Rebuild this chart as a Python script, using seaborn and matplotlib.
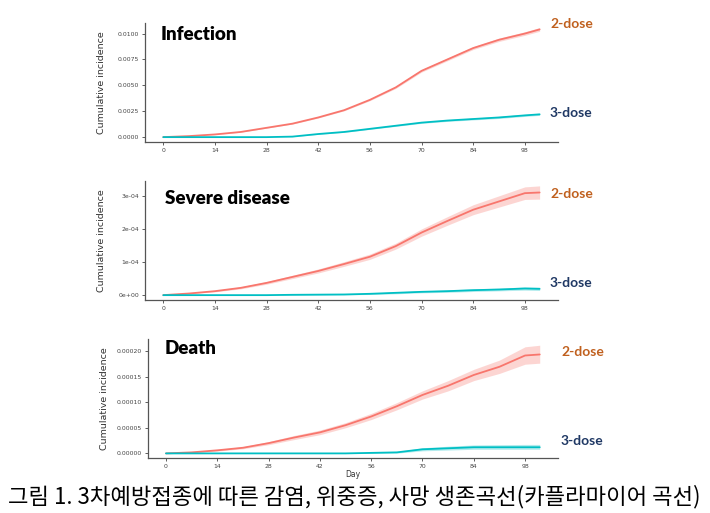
import numpy as np
import pandas as pd
import matplotlib
matplotlib.use("Agg")
import matplotlib.pyplot as plt
import seaborn as sns
from matplotlib.ticker import FixedLocator, FixedFormatter

sns.set_theme(style="ticks")
plt.rcParams['font.family'] = ['DejaVu Sans', 'Noto Sans CJK KR']

# ---------------- data ----------------
days = [0, 7, 14, 21, 28, 35, 42, 49, 56, 63, 70, 77, 84, 91, 98, 102]

inf_2 = [0, 0.0001, 0.00026, 0.0005, 0.0009, 0.0013, 0.0019, 0.0026, 0.0036,
         0.0048, 0.0064, 0.0075, 0.0086, 0.0094, 0.0100, 0.0104]
inf_2_lo = [0, 0.0001, 0.00025, 0.00048, 0.00087, 0.00126, 0.00185, 0.00254, 0.00352,
            0.0047, 0.00628, 0.00737, 0.00846, 0.00924, 0.00983, 0.01022]
inf_2_hi = [0, 0.0001, 0.00027, 0.00052, 0.00093, 0.00134, 0.00195, 0.00266, 0.00368,
            0.0049, 0.00652, 0.00763, 0.00874, 0.00956, 0.01017, 0.01058]
inf_3 = [0, 0, 0, 0, 0, 0.00005, 0.0003, 0.0005, 0.0008, 0.0011, 0.0014, 0.0016,
         0.00175, 0.0019, 0.0021, 0.0022]
inf_3_lo = [0, 0, 0, 0, 0, 0.00004, 0.00027, 0.00046, 0.00075, 0.00104, 0.00133, 0.00152,
            0.00166, 0.0018, 0.002, 0.0021]
inf_3_hi = [0, 0, 0, 0, 0, 0.00006, 0.00033, 0.00054, 0.00085, 0.00116, 0.00147, 0.00168,
            0.00184, 0.002, 0.0022, 0.0023]

sev_2 = [0, 0.05e-4, 0.12e-4, 0.22e-4, 0.37e-4, 0.55e-4, 0.73e-4, 0.94e-4, 1.16e-4,
         1.48e-4, 1.89e-4, 2.24e-4, 2.58e-4, 2.83e-4, 3.08e-4, 3.10e-4]
sev_2_lo = [0, 0.04e-4, 0.10e-4, 0.19e-4, 0.33e-4, 0.50e-4, 0.67e-4, 0.87e-4, 1.08e-4,
            1.39e-4, 1.78e-4, 2.11e-4, 2.43e-4, 2.66e-4, 2.89e-4, 2.90e-4]
sev_2_hi = [0, 0.06e-4, 0.14e-4, 0.25e-4, 0.41e-4, 0.60e-4, 0.79e-4, 1.01e-4, 1.24e-4,
            1.57e-4, 2.00e-4, 2.37e-4, 2.73e-4, 3.00e-4, 3.27e-4, 3.30e-4]
sev_3 = [0, 0, 0, 0, 0, 0.01e-4, 0.015e-4, 0.02e-4, 0.04e-4, 0.07e-4, 0.10e-4, 0.12e-4,
         0.15e-4, 0.17e-4, 0.20e-4, 0.19e-4]
sev_3_lo = [0, 0, 0, 0, 0, 0.0, 0.005e-4, 0.01e-4, 0.02e-4, 0.04e-4, 0.07e-4, 0.085e-4,
            0.11e-4, 0.13e-4, 0.15e-4, 0.14e-4]
sev_3_hi = [0, 0, 0, 0, 0, 0.02e-4, 0.03e-4, 0.035e-4, 0.06e-4, 0.10e-4, 0.13e-4, 0.155e-4,
            0.19e-4, 0.21e-4, 0.25e-4, 0.24e-4]

dth_2 = [0, 2e-6, 6e-6, 11e-6, 20e-6, 31e-6, 41e-6, 55e-6, 72e-6, 92e-6, 114e-6,
         132e-6, 153e-6, 169e-6, 191e-6, 193e-6]
dth_2_lo = [0, 1e-6, 4.5e-6, 9e-6, 17e-6, 27e-6, 36.5e-6, 50e-6, 66e-6, 85e-6, 106e-6,
            122e-6, 142e-6, 156e-6, 174e-6, 176e-6]
dth_2_hi = [0, 3e-6, 7.5e-6, 13e-6, 23e-6, 35e-6, 45.5e-6, 60e-6, 78e-6, 99e-6, 122e-6,
            142e-6, 164e-6, 182e-6, 208e-6, 211e-6]
dth_3 = [0, 0, 0, 0, 0, 0, 0, 0, 1e-6, 2e-6, 8e-6, 10e-6, 12e-6, 12e-6, 12e-6, 12e-6]
dth_3_lo = [0, 0, 0, 0, 0, 0, 0, 0, 0, 0.5e-6, 5e-6, 6.5e-6, 8e-6, 8e-6, 8e-6, 8e-6]
dth_3_hi = [0, 0, 0, 0, 0, 0, 0, 0, 2e-6, 3.5e-6, 11e-6, 14e-6, 16.5e-6, 17e-6, 17.5e-6, 17.5e-6]

x_ticks = [0, 14, 28, 42, 56, 70, 84, 98]
inf_ticks = [0, 0.0025, 0.005, 0.0075, 0.01]
inf_labels = ["0.0000", "0.0025", "0.0050", "0.0075", "0.0100"]
sev_ticks = [0, 1e-4, 2e-4, 3e-4]
sev_labels = ["0e+00", "1e-04", "2e-04", "3e-04"]
dth_ticks = [0, 5e-5, 1e-4, 1.5e-4, 2e-4]
dth_labels = ["0.00000", "0.00005", "0.00010", "0.00015", "0.00020"]

panel_titles = ["Infection", "Severe disease", "Death"]
group_labels = ["2-dose", "3-dose"]
caption = "그림 1. 3차예방접종에 따른 감염, 위중증, 사망 생존곡선(카플라마이어 곡선)"

# ---------------- styling ----------------
C2 = "#F8766D"
C3 = "#00BFC4"
LBL2 = "#C0601E"
LBL3 = "#1F3864"

fig = plt.figure(figsize=(7.1, 5.13), dpi=100)
fig.patch.set_facecolor("white")

positions = [
    [0.204, 0.723, 0.582, 0.233],
    [0.204, 0.415, 0.582, 0.233],
    [0.208, 0.107, 0.578, 0.232],
]
ylims = [(-0.00048, 0.01106), (-1.5e-5, 3.46e-4), (-9.2e-6, 2.23e-4)]
panels = [
    (inf_2, inf_2_lo, inf_2_hi, inf_3, inf_3_lo, inf_3_hi, inf_ticks, inf_labels),
    (sev_2, sev_2_lo, sev_2_hi, sev_3, sev_3_lo, sev_3_hi, sev_ticks, sev_labels),
    (dth_2, dth_2_lo, dth_2_hi, dth_3, dth_3_lo, dth_3_hi, dth_ticks, dth_labels),
]
title_pos = [(161, 34), (165, 199), (165, 349)]
lbl2_pos = [(550, 24), (550, 194), (561, 352)]
lbl3_pos = [(550, 113), (550, 283), (561, 441)]

for i, (pos, yl, pdata) in enumerate(zip(positions, ylims, panels)):
    y2, y2lo, y2hi, y3, y3lo, y3hi, yt, ytl = pdata
    ax = fig.add_axes(pos)
    df = pd.DataFrame({
        "Day": days * 2,
        "value": list(y2) + list(y3),
        "group": [group_labels[0]] * len(days) + [group_labels[1]] * len(days),
    })
    ax.fill_between(days, y2lo, y2hi, color=C2, alpha=0.3, linewidth=0)
    ax.fill_between(days, y3lo, y3hi, color=C3, alpha=0.3, linewidth=0)
    sns.lineplot(data=df, x="Day", y="value", hue="group",
                 palette=[C2, C3], ax=ax, legend=False, linewidth=1.3)
    ax.set_xlim(-5, 107)
    ax.set_ylim(*yl)
    ax.xaxis.set_major_locator(FixedLocator(x_ticks))
    ax.yaxis.set_major_locator(FixedLocator(yt))
    ax.yaxis.set_major_formatter(FixedFormatter(ytl))
    ax.tick_params(axis="both", labelsize=4.4, colors="#444444", length=2, width=0.6,
                   pad=2)
    for s in ["top", "right"]:
        ax.spines[s].set_visible(False)
    for s in ["left", "bottom"]:
        ax.spines[s].set_color("#555555")
        ax.spines[s].set_linewidth(0.9)
    ax.set_ylabel("Cumulative incidence", fontsize=6.8, color="#333333")
    ax.yaxis.set_label_coords(-0.095, 0.5)
    if i == 2:
        ax.set_xlabel("Day", fontsize=5.5, color="#333333", labelpad=1)
    else:
        ax.set_xlabel("")

    tx, ty = title_pos[i]
    fig.text(tx / 710, 1 - ty / 513, panel_titles[i], fontsize=13.5, fontweight="heavy",
             color="black", ha="left", va="center", family="Lato")
    lx, ly = lbl2_pos[i]
    fig.text(lx / 710, 1 - ly / 513, group_labels[0], fontsize=10, fontweight="bold",
             color=LBL2, ha="left", va="center", family="Lato")
    lx, ly = lbl3_pos[i]
    fig.text(lx / 710, 1 - ly / 513, group_labels[1], fontsize=10, fontweight="bold",
             color=LBL3, ha="left", va="center", family="Lato")

fig.text(8 / 710, 1 - 497 / 513, caption, fontsize=16, color="black",
         ha="left", va="center", family=["Noto Sans CJK KR", "DejaVu Sans"])

fig.savefig("out.png", dpi=100, facecolor="white")
